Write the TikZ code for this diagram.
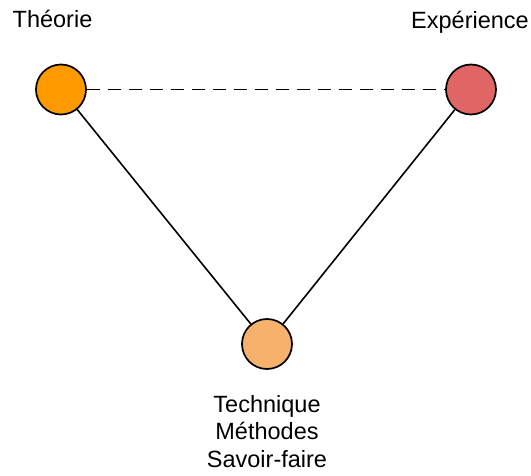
\documentclass[tikz,border=0pt]{standalone}
\usepackage{fontspec}
\setmainfont{Liberation Sans}
\definecolor{theo}{HTML}{FF9900}
\definecolor{expe}{HTML}{E06666}
\definecolor{tech}{HTML}{F6B26B}
\begin{document}
\begin{tikzpicture}[x=1pt,y=-1pt,
  dot/.style={circle,draw=black,line width=1.7pt,minimum size=50pt,inner sep=0pt},
  lbl/.style={font=\fontsize{23.5}{27.5}\selectfont,inner sep=0pt,anchor=base},
  link/.style={draw=black,line width=1.6pt},
  dashlink/.style={link,dash pattern=on 13pt off 8pt}]
\useasboundingbox (0,0) rectangle (531,476);
\node[dot,fill=theo] (t) at (61,89.5) {};
\node[dot,fill=expe] (e) at (471,89.5) {};
\node[dot,fill=tech] (k) at (267,344) {};
\node[lbl] (tl) at (52.5,28) {Théorie};
\node[lbl] (el) at (470,29) {Expérience};
\node[lbl,align=center] (kl) at (267,467) {Technique\\Méthodes\\Savoir-faire};
\draw[dashlink] (t) -- (e);
\draw[link] (t) -- (k);
\draw[link] (e) -- (k);
\end{tikzpicture}
\end{document}
